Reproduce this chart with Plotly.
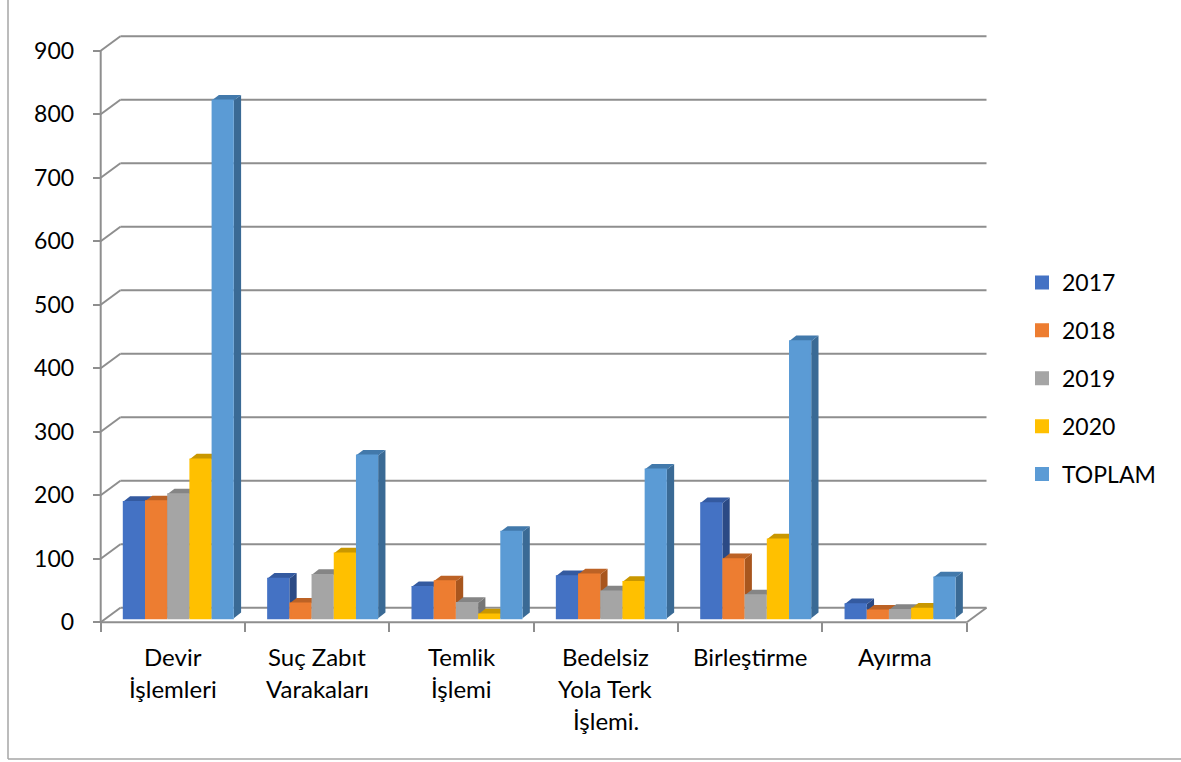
import plotly.graph_objects as go

categories = ["Devir İşlemleri", "Suç Zabıt Varakaları", "Temlik İşlemi",
              "Bedelsiz Yola Terk İşlemi.", "Birleştirme", "Ayırma"]
label_lines = [["Devir", "İşlemleri"], ["Suç Zabıt", "Varakaları"], ["Temlik", "İşlemi"],
               ["Bedelsiz", "Yola Terk", "İşlemi."], ["Birleştirme"], ["Ayırma"]]
series_names = ["2017", "2018", "2019", "2020", "TOPLAM"]
v2017 = [183, 62, 49, 66, 181, 22]
v2018 = [184, 23, 58, 69, 93, 12]
v2019 = [195, 68, 24, 42, 36, 13]
v2020 = [250, 102, 6, 57, 124, 15]
vtoplam = [815, 256, 136, 234, 436, 64]
series_values = [v2017, v2018, v2019, v2020, vtoplam]
y_ticks = [0, 100, 200, 300, 400, 500, 600, 700, 800, 900]

front_colors = ["#4472C4", "#ED7D31", "#A5A5A5", "#FFC000", "#5B9BD5"]
top_colors = ["#345AA0", "#BC6225", "#858585", "#C99700", "#4279AB"]
side_colors = ["#2B4A85", "#A8561E", "#767676", "#B58900", "#3A6A95"]
GRID = "#8E8E8E"
FONT = "Lato"
FS = 23
FS_CAT = 24

W, H = 1181, 762
# pixel geometry of the pseudo-3D box
X0, CAT = 100.7, 144.35     # left of front floor, category pitch
Y0, UNIT = 622.3, 0.6351    # y pixel of value 0, pixels per unit
WALL_DX, WALL_DY = 19.7, 14.5
BAR_W = 22.2
BAR_LEFT = 122.8
BAR_FLOOR = 618.2
BAR_DX, BAR_DY = 7.3, 5.7
BAR_EDGE = 2
DOM_L, DOM_R, DOM_T, DOM_B = 80, 1000, 20, 650

xr = [-0.5 + (DOM_L - X0) / CAT, -0.5 + (DOM_R - X0) / CAT]
yr = [(Y0 - DOM_B) / UNIT, (Y0 - DOM_T) / UNIT]
bar_lift = (Y0 - BAR_FLOOR) / UNIT
yr2 = [yr[0] - bar_lift, yr[1] - bar_lift]

bw = BAR_W / CAT
first = (BAR_LEFT - (X0 + CAT / 2)) / CAT
ddx, ddy = BAR_DX / CAT, BAR_DY / UNIT
wdx, wdy = WALL_DX / CAT, WALL_DY / UNIT
edge = BAR_EDGE / CAT

fig = go.Figure()

# top and side faces, derived from the values, painted left to right
for s, vals in enumerate(series_values):
    tx, ty, sx, sy = [], [], [], []
    for c, v in enumerate(vals):
        a = c + first + s * bw
        b = a + bw
        h = v + bar_lift
        tx += [a, b, b + ddx, a + ddx, a, None]
        ty += [h, h, h + ddy, h + ddy, h, None]
        sx += [b, b + ddx, b + ddx, b, b, None]
        sy += [h, h + ddy, bar_lift + ddy, bar_lift, h, None]
    for xs, ys, col in ((sx, sy, side_colors[s]), (tx, ty, top_colors[s])):
        fig.add_trace(go.Scatter(x=xs, y=ys, mode="lines", fill="toself", fillcolor=col,
                                 line=dict(width=0, color=col), hoverinfo="skip",
                                 showlegend=False, xaxis="x", yaxis="y"))

# front faces
for s, vals in enumerate(series_values):
    fig.add_trace(go.Bar(x=categories, y=vals, name=series_names[s], width=bw - edge,
                         offset=first + s * bw + edge / 2,
                         marker=dict(color=front_colors[s], line=dict(width=BAR_EDGE, color=front_colors[s])),
                         xaxis="x2", yaxis="y2", legendgroup=series_names[s]))

shapes = []
def seg(x0, y0, x1, y1):
    shapes.append(dict(type="line", xref="x", yref="y", x0=x0, y0=y0, x1=x1, y1=y1,
                       layer="below", line=dict(color=GRID, width=2)))

left = -0.5
right = 5.5
for t in y_ticks:
    seg(left, t, left + wdx, t + wdy)
    seg(left + wdx, t + wdy, right + wdx, t + wdy)
seg(left, 0, left, y_ticks[-1])
seg(left, 0, right, 0)
seg(right, 0, right + wdx, wdy)

# chart frame
for x0, y0, x1, y1 in ((8 / W, 1, 8 / W, 1 - 759 / H), (8 / W, 1 - 759 / H, 1, 1 - 759 / H)):
    shapes.append(dict(type="line", xref="paper", yref="paper", x0=x0, y0=y0, x1=x1, y1=y1,
                       line=dict(color="#A6A6A6", width=1.5)))

annotations = []
for c, lines in enumerate(label_lines):
    for i, line in enumerate(lines):
        annotations.append(dict(x=c, xref="x", y=1 - (656 + 32 * i) / H, yref="paper",
                                text=line, showarrow=False, xanchor="center", yanchor="middle",
                                font=dict(family=FONT, size=FS_CAT, color="#000000")))

fig.update_layout(
    width=W, height=H, margin=dict(l=0, r=0, t=0, b=0, autoexpand=False),
    paper_bgcolor="white", plot_bgcolor="rgba(0,0,0,0)",
    font=dict(family=FONT, size=FS, color="#000000"),
    barmode="overlay", shapes=shapes, annotations=annotations,
    xaxis=dict(domain=[DOM_L / W, DOM_R / W], range=xr, visible=False, anchor="y"),
    yaxis=dict(domain=[1 - DOM_B / H, 1 - DOM_T / H], range=yr, anchor="free", position=X0 / W,
               tickmode="array", tickvals=y_ticks, ticks="outside", ticklen=8, tickwidth=1.5,
               tickcolor=GRID, showgrid=False, zeroline=False, showline=False,
               ticklabelstandoff=14, tickfont=dict(family=FONT, size=FS, color="#000000")),
    xaxis2=dict(domain=[DOM_L / W, DOM_R / W], range=xr, overlaying="x", type="category",
                categoryorder="array", categoryarray=categories, anchor="free",
                position=1 - Y0 / H, tickson="boundaries", ticks="outside", ticklen=9, tickwidth=1.5,
                tickcolor=GRID, showticklabels=False, showgrid=False, zeroline=False, showline=False),
    yaxis2=dict(domain=[1 - DOM_B / H, 1 - DOM_T / H], range=yr2, overlaying="y", anchor="x2",
                visible=False),
    legend=dict(x=1022 / W, y=1 - 261 / H, xanchor="left", yanchor="top", traceorder="grouped",
                tracegroupgap=15, font=dict(family=FONT, size=FS, color="#000000"),
                bgcolor="rgba(0,0,0,0)", itemclick=False, itemdoubleclick=False),
)

fig.write_html("out.html", config={"displayModeBar": False},
               post_script="document.body.style.margin='0';document.body.style.overflow='hidden';")
